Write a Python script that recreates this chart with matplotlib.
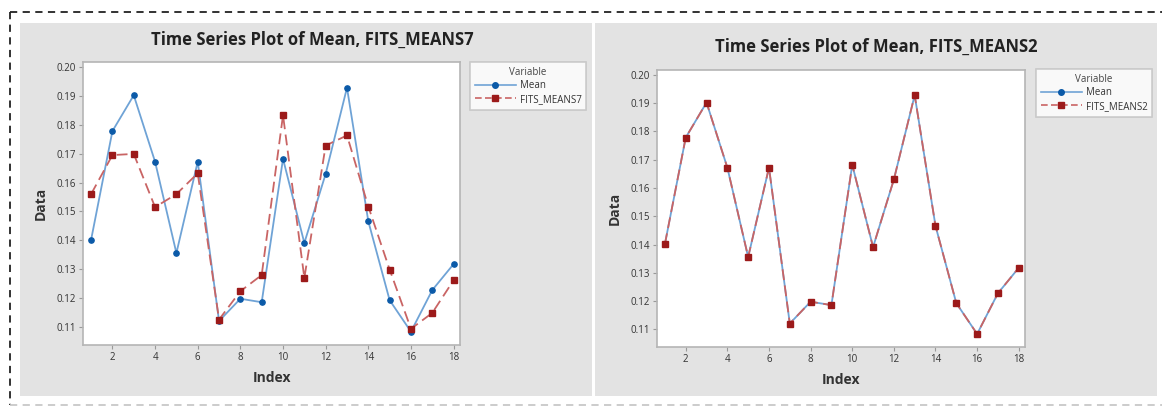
import matplotlib

matplotlib.use("Agg")
import matplotlib.pyplot as plt  # noqa: E402
from matplotlib.lines import Line2D  # noqa: E402
from matplotlib.patches import Rectangle  # noqa: E402

plt.rcParams["font.family"] = ["Open Sans", "DejaVu Sans"]

index = list(range(1, 19))
mean = [0.1402, 0.1778, 0.1902, 0.1672, 0.1356, 0.1672, 0.1121, 0.1198, 0.1186,
        0.1682, 0.1391, 0.1630, 0.1928, 0.1466, 0.1193, 0.1084, 0.1228, 0.1318]
fits_means7 = [0.1560, 0.1695, 0.1699, 0.1515, 0.1560, 0.1632, 0.1126, 0.1224, 0.1280,
               0.1833, 0.1270, 0.1728, 0.1763, 0.1517, 0.1299, 0.1094, 0.1149, 0.1262]
fits_means2 = list(mean)

x_ticks = [2, 4, 6, 8, 10, 12, 14, 16, 18]
y_ticks = [0.11, 0.12, 0.13, 0.14, 0.15, 0.16, 0.17, 0.18, 0.19, 0.20]
y_labels = ["0.11", "0.12", "0.13", "0.14", "0.15", "0.16", "0.17", "0.18", "0.19", "0.20"]

W, H = 1162, 407
BLUE_LINE, BLUE_MK = "#6fa3d6", "#0b5aa8"
RED_LINE, RED_MK = "#c96464", "#9c1a1a"
PANEL = "#e3e3e3"


def px(x, y, w, h):
    return [x / W, 1 - (y + h) / H, w / W, h / H]


fig = plt.figure(figsize=(W / 100, H / 100), dpi=100)

# outer dashed frame
fig.add_artist(Line2D([10 / W, 10 / W], [1 - 12 / H, 1 - 405 / H], color="#222222",
                      lw=1.3, ls=(0, (4, 3))))
fig.add_artist(Line2D([10 / W, 1], [1 - 12 / H, 1 - 12 / H], color="#222222",
                      lw=1.3, ls=(0, (4, 3))))
fig.add_artist(Line2D([10 / W, 1], [1 - 405 / H, 1 - 405 / H], color="#c8c8c8",
                      lw=1.3, ls=(0, (4, 3))))

# panel backgrounds
for x0, x1 in [(20, 592), (595, 1157)]:
    fig.add_artist(Rectangle((x0 / W, 1 - 396 / H), (x1 - x0) / W, (396 - 23) / H,
                             transform=fig.transFigure, facecolor=PANEL, edgecolor="none",
                             zorder=0))

panels = [
    dict(ax=(83, 62, 377, 283), title_y=40, title_x=312, fits=fits_means7,
         name="FITS_MEANS7", leg=(470, 62)),
    dict(ax=(657, 70, 368, 277), title_y=47, title_x=876, fits=fits_means2,
         name="FITS_MEANS2", leg=(1036, 69)),
]

for p in panels:
    ax = fig.add_axes(px(*p["ax"]))
    ax.set_facecolor("white")
    ax.plot(index, mean, color=BLUE_LINE, lw=1.3, marker="o", ms=3.8,
            mfc=BLUE_MK, mec=BLUE_MK, zorder=3)
    ax.plot(index, p["fits"], color=RED_LINE, lw=1.3, ls=(0, (6, 3)), marker="s", ms=3.8,
            mfc=RED_MK, mec=RED_MK, zorder=4)
    ax.set_xlim(0.62, 18.3)
    ax.set_ylim(0.1038, 0.2017)
    ax.set_xticks(x_ticks)
    ax.set_yticks(y_ticks)
    ax.set_yticklabels(y_labels)
    ax.tick_params(labelsize=7, length=3, width=0.8, color="#999999", labelcolor="#333333",
                   pad=2)
    for s in ax.spines.values():
        s.set_color("#b5b5b5")
        s.set_linewidth(1.2)
    ax.set_xlabel("Index", fontsize=10, fontweight="bold", color="#333333", labelpad=6)
    ax.set_ylabel("Data", fontsize=10, fontweight="bold", color="#333333", labelpad=6)
    fig.text(p["title_x"] / W, 1 - p["title_y"] / H,
             "Time Series Plot of Mean, " + p["name"], ha="center", va="center",
             fontsize=12, fontweight="bold", color="#222222")

    handles = [
        Line2D([], [], color=BLUE_LINE, lw=1.2, marker="o", ms=4, mfc=BLUE_MK, mec=BLUE_MK),
        Line2D([], [], color=RED_LINE, lw=1.2, ls=(0, (4, 2)), marker="s", ms=4,
               mfc=RED_MK, mec=RED_MK),
    ]
    lx, ly = p["leg"]
    leg = fig.legend(handles, ["Mean", p["name"]], title="Variable",
                     loc="upper left", bbox_to_anchor=(lx / W, 1 - ly / H),
                     fontsize=7, title_fontsize=7, frameon=True, fancybox=False,
                     edgecolor="#c0c0c0", handlelength=4.2, handletextpad=0.4,
                     borderpad=0.5, labelspacing=0.25, borderaxespad=0)
    leg.get_frame().set_linewidth(1.2)
    leg.get_title().set_color("#444444")
    for t in leg.get_texts():
        t.set_color("#333333")

fig.savefig("out.png", dpi=100, facecolor="white")
